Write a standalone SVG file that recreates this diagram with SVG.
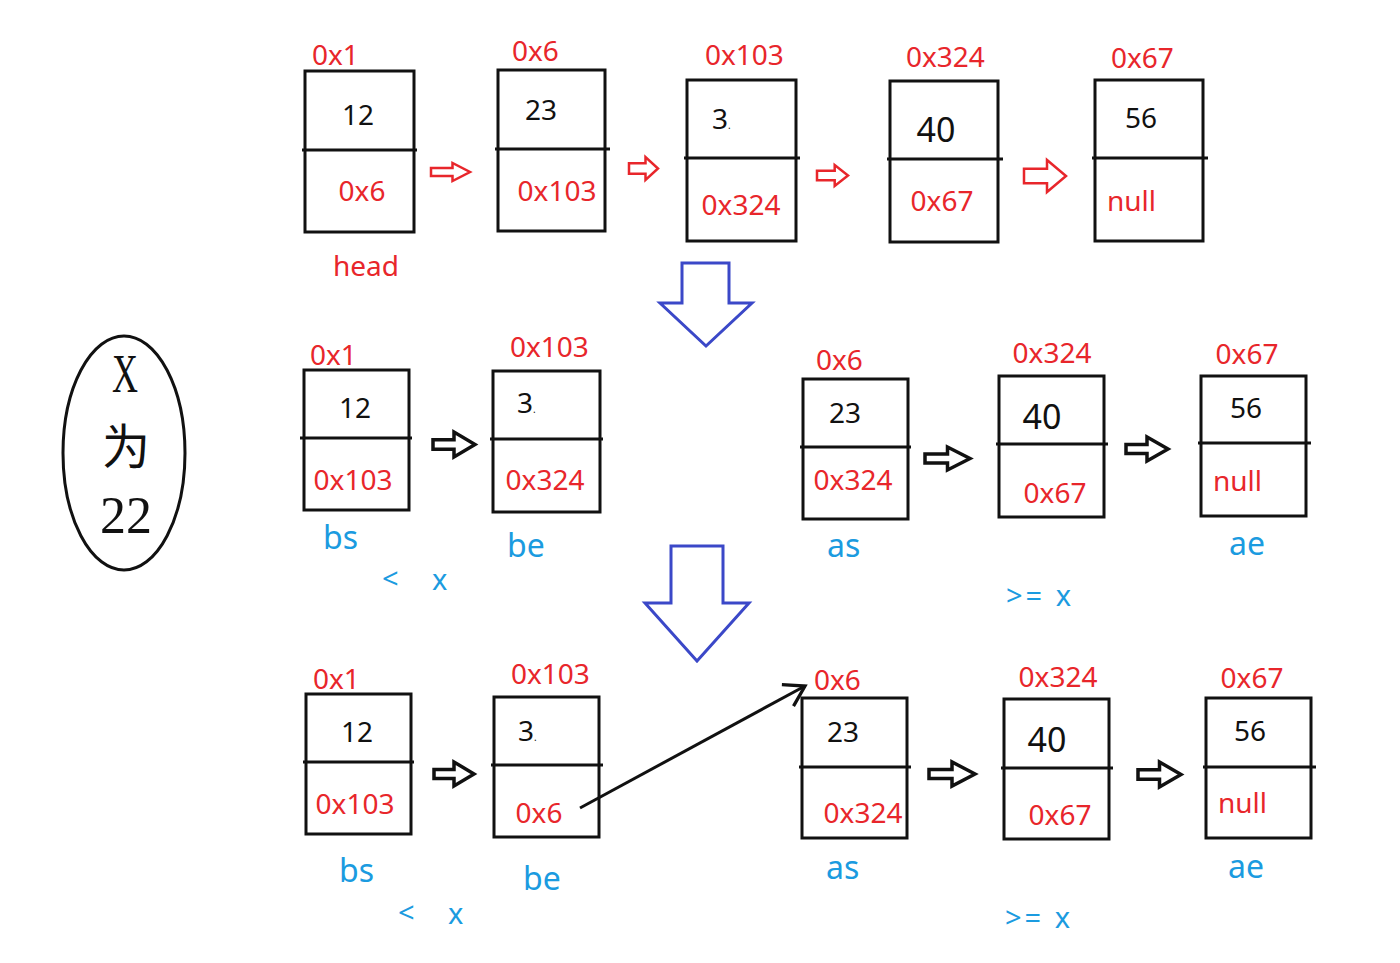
<svg xmlns="http://www.w3.org/2000/svg" width="1400" height="963" viewBox="0 0 1400 963">
<style>
.box{fill:none;stroke:#111;stroke-width:3}
.div{stroke:#111;stroke-width:3}
.t{font-family:"Noto Sans","Liberation Sans",sans-serif}
.red{fill:#e8262b;font-size:28px}
.blk{fill:#111;font-size:28px}
.big{fill:#111;font-size:34px}
.blue{fill:#1b9be0;font-size:32px}
.op{fill:#1b9be0;font-size:29px}
.rarrow{fill:#fff;stroke:#e8262b;stroke-width:2.5;stroke-linejoin:miter}
.barrow{fill:#fff;stroke:#111;stroke-width:3.5;stroke-linejoin:miter}
.darrow{fill:#fff;stroke:#3b48c8;stroke-width:3}
.ser{font-family:"Liberation Serif","Noto Sans CJK SC",serif;fill:#111}
</style>
<defs>
<marker id="open" markerUnits="userSpaceOnUse" markerWidth="30" markerHeight="30" viewBox="-26 -16 30 32" refX="0" refY="0" orient="auto" overflow="visible">
<path d="M-21,-13 L0,0 L-21,13" fill="none" stroke="#111" stroke-width="3.5"/>
</marker>
</defs>
<rect width="1400" height="963" fill="#fff"/>

<g id="note">
<ellipse cx="124" cy="453" rx="61" ry="117" fill="none" stroke="#111" stroke-width="3"/>
<text class="ser" x="125" y="392" font-size="54" text-anchor="middle" textLength="26" lengthAdjust="spacingAndGlyphs">X</text>
<text class="ser" x="126" y="464" font-size="48" text-anchor="middle">为</text>
<text class="ser" x="126" y="533" font-size="52" text-anchor="middle">22</text>
</g>

<!-- Row 1 -->
<g id="r1n1">
<rect class="box" x="305" y="71" width="109" height="161"/>
<line class="div" x1="302" y1="150" x2="417" y2="150"/>
<text class="t red" x="312" y="65">0x1</text>
<text class="t blk" x="358" y="125" text-anchor="middle">12</text>
<text class="t red" x="362" y="201" text-anchor="middle">0x6</text>
<text class="t red" x="366" y="276" text-anchor="middle" font-size="34">head</text>
</g>
<g id="r1n2">
<rect class="box" x="498" y="70" width="107" height="161"/>
<line class="div" x1="495" y1="149" x2="610" y2="149"/>
<text class="t red" x="512" y="61">0x6</text>
<text class="t blk" x="541" y="120" text-anchor="middle">23</text>
<text class="t red" x="557" y="201" text-anchor="middle">0x103</text>
</g>
<g id="r1n3">
<rect class="box" x="687" y="80" width="109" height="161"/>
<line class="div" x1="684" y1="158" x2="800" y2="158"/>
<text class="t red" x="705" y="65">0x103</text>
<text class="t blk" x="712" y="129">3<tspan font-size="10">.</tspan></text>
<text class="t red" x="741" y="215" text-anchor="middle">0x324</text>
</g>
<g id="r1n4">
<rect class="box" x="890" y="81" width="108" height="161"/>
<line class="div" x1="887" y1="159" x2="1003" y2="159"/>
<text class="t red" x="906" y="67">0x324</text>
<text class="t big" x="936" y="142" text-anchor="middle">40</text>
<text class="t red" x="942" y="211" text-anchor="middle">0x67</text>
</g>
<g id="r1n5">
<rect class="box" x="1095" y="80" width="108" height="161"/>
<line class="div" x1="1092" y1="158" x2="1208" y2="158"/>
<text class="t red" x="1111" y="68">0x67</text>
<text class="t blk" x="1141" y="128" text-anchor="middle">56</text>
<text class="t red" x="1107" y="211">null</text>
</g>

<!-- Row 2 -->
<g id="r2n1">
<rect class="box" x="304" y="370" width="105" height="140"/>
<line class="div" x1="300" y1="438" x2="412" y2="438"/>
<text class="t red" x="310" y="365" font-size="26">0x1</text>
<text class="t blk" x="355" y="418" text-anchor="middle">12</text>
<text class="t red" x="353" y="490" text-anchor="middle">0x103</text>
<text class="t blue" x="323" y="549">bs</text>
</g>
<g id="r2n2">
<rect class="box" x="493" y="371" width="107" height="141"/>
<line class="div" x1="490" y1="439" x2="603" y2="439"/>
<text class="t red" x="510" y="357">0x103</text>
<text class="t blk" x="517" y="413">3<tspan font-size="10">.</tspan></text>
<text class="t red" x="545" y="490" text-anchor="middle">0x324</text>
<text class="t blue" x="507" y="557">be</text>
</g>
<g id="r2n3">
<rect class="box" x="803" y="379" width="105" height="140"/>
<line class="div" x1="800" y1="447" x2="911" y2="447"/>
<text class="t red" x="816" y="370">0x6</text>
<text class="t blk" x="845" y="423" text-anchor="middle">23</text>
<text class="t red" x="853" y="490" text-anchor="middle">0x324</text>
<text class="t blue" x="827" y="557">as</text>
</g>
<g id="r2n4">
<rect class="box" x="999" y="376" width="105" height="141"/>
<line class="div" x1="996" y1="444" x2="1108" y2="444"/>
<text class="t red" x="1052" y="363" text-anchor="middle">0x324</text>
<text class="t big" x="1042" y="429" text-anchor="middle">40</text>
<text class="t red" x="1055" y="503" text-anchor="middle">0x67</text>
</g>
<g id="r2n5">
<rect class="box" x="1201" y="376" width="105" height="140"/>
<line class="div" x1="1198" y1="443" x2="1311" y2="443"/>
<text class="t red" x="1247" y="364" text-anchor="middle">0x67</text>
<text class="t blk" x="1246" y="418" text-anchor="middle">56</text>
<text class="t red" x="1213" y="491">null</text>
<text class="t blue" x="1229" y="555">ae</text>
</g>
<g id="r2lt">
<text class="t op" x="382" y="589">&lt;</text>
<text class="t op" x="432" y="590">x</text>
</g>
<g id="r2ge">
<text class="t op" x="1006" y="606" letter-spacing="3">&gt;= x</text>
</g>

<!-- Row 3 -->
<g id="r3n1">
<rect class="box" x="306" y="694" width="105" height="140"/>
<line class="div" x1="303" y1="762" x2="414" y2="762"/>
<text class="t red" x="313" y="689" font-size="26">0x1</text>
<text class="t blk" x="357" y="742" text-anchor="middle">12</text>
<text class="t red" x="355" y="814" text-anchor="middle">0x103</text>
<text class="t blue" x="339" y="882">bs</text>
</g>
<g id="r3n2">
<rect class="box" x="494" y="697" width="105" height="140"/>
<line class="div" x1="491" y1="765" x2="603" y2="765"/>
<text class="t red" x="511" y="684">0x103</text>
<text class="t blk" x="518" y="741">3<tspan font-size="10">.</tspan></text>
<text class="t red" x="539" y="823" text-anchor="middle">0x6</text>
<text class="t blue" x="523" y="890">be</text>
</g>
<g id="r3n3">
<rect class="box" x="802" y="698" width="105" height="140"/>
<line class="div" x1="799" y1="767" x2="911" y2="767"/>
<text class="t red" x="814" y="690">0x6</text>
<text class="t blk" x="843" y="742" text-anchor="middle">23</text>
<text class="t red" x="863" y="823" text-anchor="middle">0x324</text>
<text class="t blue" x="826" y="879">as</text>
</g>
<g id="r3n4">
<rect class="box" x="1004" y="699" width="105" height="140"/>
<line class="div" x1="1001" y1="768" x2="1113" y2="768"/>
<text class="t red" x="1058" y="687" text-anchor="middle">0x324</text>
<text class="t big" x="1047" y="752" text-anchor="middle">40</text>
<text class="t red" x="1060" y="825" text-anchor="middle">0x67</text>
</g>
<g id="r3n5">
<rect class="box" x="1206" y="698" width="105" height="140"/>
<line class="div" x1="1203" y1="767" x2="1316" y2="767"/>
<text class="t red" x="1252" y="688" text-anchor="middle">0x67</text>
<text class="t blk" x="1250" y="741" text-anchor="middle">56</text>
<text class="t red" x="1218" y="813">null</text>
<text class="t blue" x="1228" y="878">ae</text>
</g>
<g id="r3lt">
<text class="t op" x="398" y="923">&lt;</text>
<text class="t op" x="448" y="924">x</text>
</g>
<g id="r3ge">
<text class="t op" x="1005" y="928" letter-spacing="3">&gt;= x</text>
</g>

<g id="connectors">
<path class="rarrow" d="M431,167.9 H452.5 V163 L470,172 L452.5,181 V176.1 H431 Z"/>
<path class="rarrow" d="M629,163.3 H645.5 V157 L658,168.5 L645.5,180 V173.7 H629 Z"/>
<path class="rarrow" d="M817,170.8 H834.7 V165 L848,175.5 L834.7,186 V180.2 H817 Z"/>
<path class="rarrow" d="M1024,168.8 H1047 V160 L1066,176 L1047,192 V183.2 H1024 Z"/>
<path class="barrow" d="M433,439.8 H454 V432 L475,444.5 L454,457 V449.2 H433 Z"/>
<path class="barrow" d="M925,454.1 H947.5 V447 L970,458.5 L947.5,470 V462.9 H925 Z"/>
<path class="barrow" d="M1126,444.4 H1147 V437 L1168,449 L1147,461 V453.6 H1126 Z"/>
<path class="barrow" d="M434,769.4 H454 V762 L474,774 L454,786 V778.6 H434 Z"/>
<path class="barrow" d="M929,769.4 H952 V762 L975,774 L952,786 V778.6 H929 Z"/>
<path class="barrow" d="M1138,769.7 H1159.5 V762 L1181,774.5 L1159.5,787 V779.2 H1138 Z"/>
<path class="darrow" d="M682,263 H729 V303 H752 L706,346 L660,303 H682 Z"/>
<path class="darrow" d="M671,546 H723 V603 H749 L697,661 L645,603 H671 Z"/>
<line x1="580" y1="808" x2="805" y2="686" stroke="#111" stroke-width="3" marker-end="url(#open)"/>
</g>
</svg>
